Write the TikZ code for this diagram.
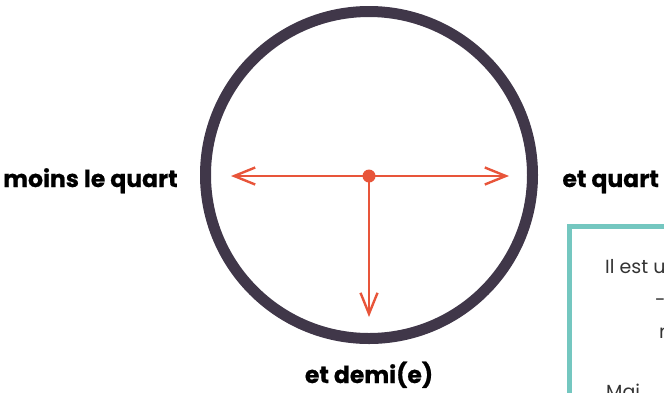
\documentclass[tikz,border=0pt]{standalone}
\usepackage{fontspec}
\setmainfont{Poppins}
\newfontfamily\heavyfont{Poppins}[BoldFeatures={FakeBold=0.7}]
\usetikzlibrary{arrows.meta}
\definecolor{ringcol}{HTML}{403749}
\definecolor{arrcol}{HTML}{E8553A}
\definecolor{boxcol}{HTML}{74C7C0}
\tikzset{
  ring/.style={circle, draw=ringcol, line width=11pt, minimum size=327pt, inner sep=0pt},
  hand/.style={draw=arrcol, line width=2.6pt, -{Straight Barb[length=21pt,width=17pt,line width=2.4pt]}},
  lab/.style={font=\heavyfont\bfseries\fontsize{23.5}{26}\selectfont, inner sep=0pt, text=black},
  body/.style={font=\fontsize{19}{22}\selectfont, inner sep=0pt, text=black!80, anchor=base west}
}
\begin{document}
\begin{tikzpicture}[x=1pt,y=-1pt]
\useasboundingbox (0,0) rectangle (664,392);
\clip (0,0) rectangle (664,392);
\node[ring] (circ) at (369,175) {};
\coordinate (c) at (369,176);
\coordinate (l) at (231,176);
\coordinate (r) at (509,176);
\coordinate (d) at (369,317);
\draw[hand] (c) -- (l);
\draw[hand] (c) -- (r);
\draw[hand] (c) -- (d);
\fill[arrcol] (c) circle (6.5pt);
\node[lab, anchor=base west] (ml) at (3,187) {moins le quart};
\node[lab, anchor=base east] (eq) at (659,187) {et quart};
\node[lab, anchor=base] (ed) at (369,383) {et demi(e)};
\draw[boxcol, line width=5pt] (569.5,226.5) rectangle (720,440);
\node[body] (t1) at (605,273) {Il est u};
\node[body] (t2) at (655,306) {-};
\node[body] (t3) at (659,338) {n};
\node[body] (t4) at (606,398) {Mai};
\end{tikzpicture}
\end{document}
